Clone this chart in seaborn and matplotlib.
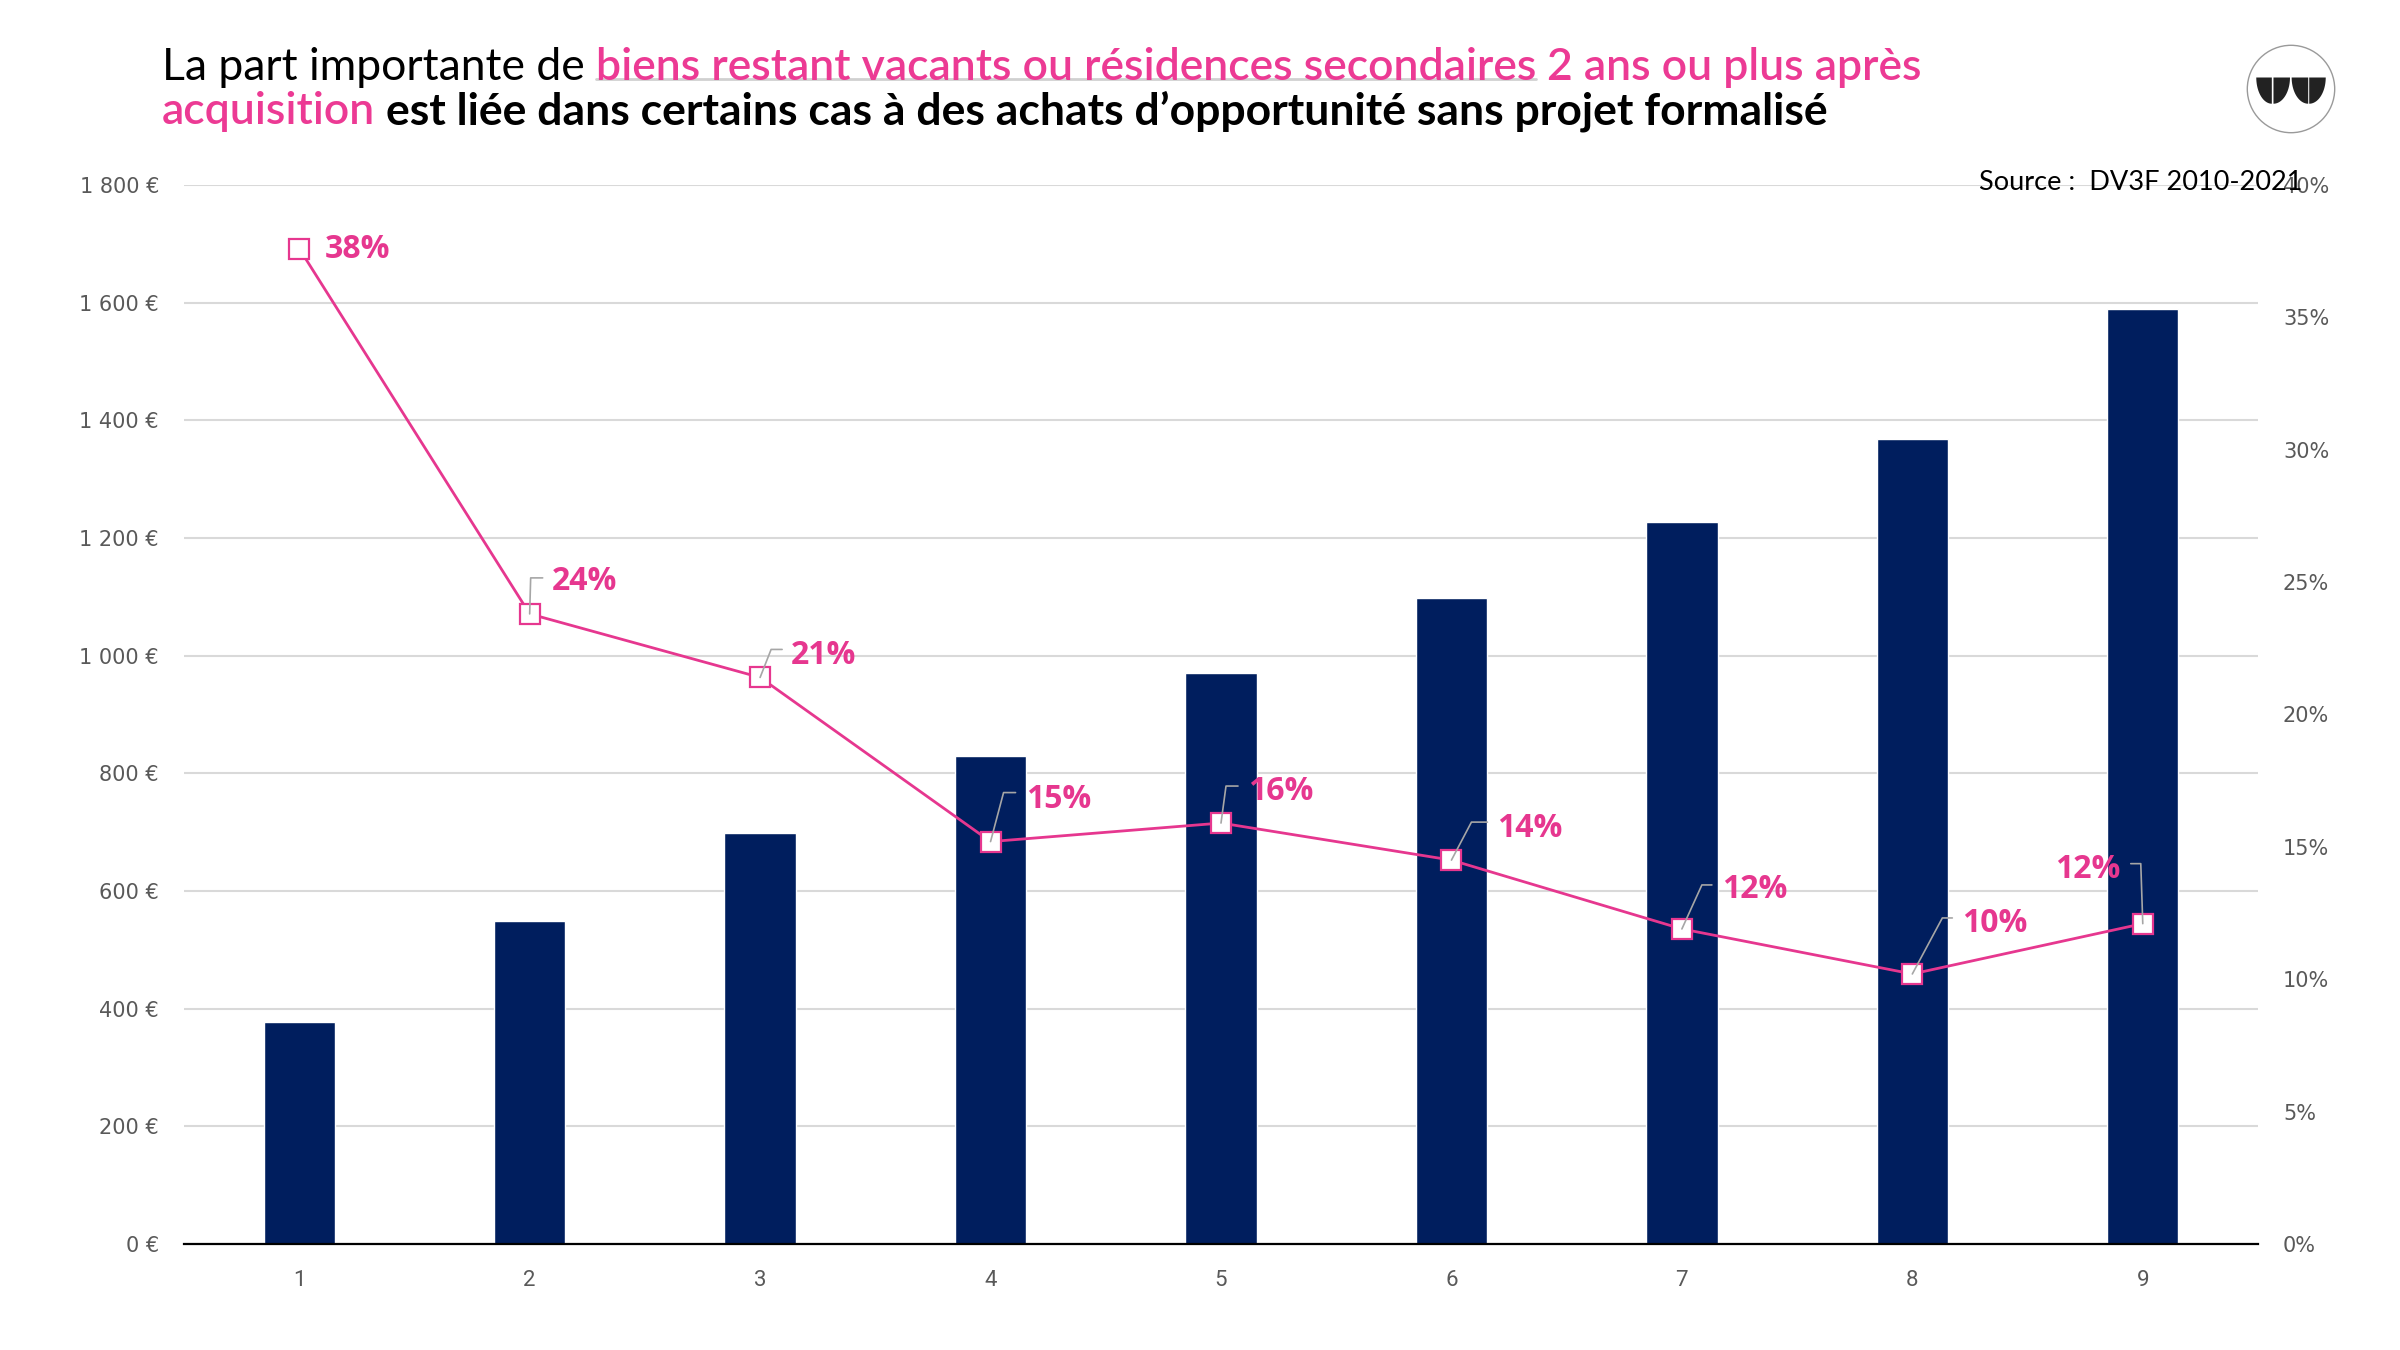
import numpy as np
import pandas as pd
import matplotlib
matplotlib.use("Agg")
import matplotlib.pyplot as plt
import seaborn as sns
from matplotlib.patches import Circle, Polygon
from matplotlib.lines import Line2D

# ==============================
# Données
# ==============================
categories = ["1", "2", "3", "4", "5", "6", "7", "8", "9"]
montants = [378, 549, 698, 830, 970, 1098, 1228, 1368, 1589]
parts = [0.376, 0.238, 0.214, 0.152, 0.159, 0.145, 0.119, 0.102, 0.121]
part_labels = ["38%", "24%", "21%", "15%", "16%", "14%", "12%", "10%", "12%"]

y_ticks_eur = list(range(0, 1801, 200))
y_ticks_pct = [0, 0.05, 0.10, 0.15, 0.20, 0.25, 0.30, 0.35, 0.40]

# décalages (pixels) des étiquettes : coude, fin du trait, texte
label_layout = [
    (None, None, (26, -1), "left"),
    ((1, 36), (13, 36), (22, 32), "left"),
    ((11, 28), (22, 28), (31, 22), "left"),
    ((13, 49), (25, 49), (36, 42), "left"),
    ((5, 37), (17, 37), (27, 32), "left"),
    ((20, 38), (36, 38), (46, 32), "left"),
    ((20, 44), (30, 44), (40, 39), "left"),
    ((30, 56), (40, 56), (50, 50), "left"),
    ((-2, 60), (-12, 60), (-22, 54), "right"),
]

NAVY = "#001E5E"
PINK = "#E6378F"
TITLE_PINK = "#EC3A94"
GREY_TXT = "#595959"

sns.set_style("white")
plt.rcParams["font.family"] = ["DejaVu Sans"]

W, H = 2400, 1350
fig = plt.figure(figsize=(W / 100, H / 100), dpi=100)
fig.patch.set_facecolor("white")

ax = fig.add_axes([184 / W, 1 - 1244 / H, (2258 - 184) / W, (1244 - 185) / H])

df = pd.DataFrame({"tranche": categories, "montant": montants, "part": parts})

# ==============================
# Barres (montants)
# ==============================
sns.barplot(data=df, x="tranche", y="montant", color=NAVY, saturation=1,
            width=0.31, ax=ax)
ax.set_ylim(0, 1800)
ax.set_xlim(-0.5, len(categories) - 0.5)
ax.set_yticks(y_ticks_eur)
ax.set_yticklabels([f"{v:,}".replace(",", " ") + " €" for v in y_ticks_eur],
                   fontsize=15, color=GREY_TXT)
ax.set_xlabel("")
ax.set_ylabel("")
ax.yaxis.grid(True, color="#D9D9D9", lw=1.5)
ax.xaxis.grid(False)
ax.set_axisbelow(True)
for s in ["left", "right", "top"]:
    ax.spines[s].set_visible(False)
ax.spines["bottom"].set_color("black")
ax.spines["bottom"].set_linewidth(1.6)
ax.tick_params(axis="y", length=0, pad=18)
ax.tick_params(axis="x", length=0, pad=19, labelsize=16, labelcolor=GREY_TXT)
for lbl in ax.get_xticklabels():
    lbl.set_fontfamily("Roboto")

# ==============================
# Courbe (parts)
# ==============================
ax2 = ax.twinx()
xs = np.arange(len(categories))
sns.lineplot(x=xs, y=df["part"], ax=ax2, color=PINK, linewidth=2,
             marker="s", markersize=15, markerfacecolor="white",
             markeredgecolor=PINK, markeredgewidth=1.6, zorder=3)
ax2.set_ylim(0, 0.40)
ax2.set_xlim(-0.5, len(categories) - 0.5)
ax2.set_yticks(y_ticks_pct)
ax2.set_yticklabels([f"{round(v * 100)}%" for v in y_ticks_pct],
                    fontsize=15, color=GREY_TXT)
ax2.set_ylabel("")
ax2.grid(False)
for s in ax2.spines.values():
    s.set_visible(False)
ax2.tick_params(axis="y", length=0, pad=18)

for i, (p, lab) in enumerate(zip(parts, part_labels)):
    elbow, end, txt, ha = label_layout[i]
    if elbow is not None:
        ang = np.degrees(np.arctan2(elbow[1], elbow[0]))
        ax2.annotate("", xy=(i, p), xytext=end, textcoords="offset pixels",
                     arrowprops=dict(arrowstyle="-", color="#A6A6A6", lw=1.2,
                                     shrinkA=0, shrinkB=0,
                                     connectionstyle=f"angle,angleA=0,angleB={ang},rad=0"),
                     zorder=5)
    ax2.annotate(lab, xy=(i, p), xytext=txt, textcoords="offset pixels",
                 ha=ha, va="center", color=PINK, fontsize=23,
                 fontweight="bold", family="Open Sans", zorder=6)

# ==============================
# Titre multicolore
# ==============================
renderer = fig.canvas.get_renderer()


def space_width(size, weight):
    a = fig.text(0, 0, "x x", fontsize=size, fontweight=weight, family="Lato")
    b = fig.text(0, 0, "xx", fontsize=size, fontweight=weight, family="Lato")
    w = a.get_window_extent(renderer).width - b.get_window_extent(renderer).width
    a.remove()
    b.remove()
    return w


def write_line(x_px, y_px, pieces, size):
    extents = []
    for k, (txt, color, weight) in enumerate(pieces):
        if k > 0:
            x_px += space_width(size, weight)
        t = fig.text(x_px / W, 1 - y_px / H, txt, color=color, fontsize=size,
                     fontweight=weight, family="Lato", va="baseline", ha="left")
        w = t.get_window_extent(renderer).width
        extents.append((x_px, x_px + w))
        x_px += w
    return extents


TITLE_SIZE = 32
line1 = write_line(162, 80, [
    ("La part importante de", "black", "normal"),
    ("biens restant vacants ou résidences secondaires", TITLE_PINK, "semibold"),
    ("2 ans ou plus après", TITLE_PINK, "semibold"),
], TITLE_SIZE)
write_line(162, 124, [
    ("acquisition", TITLE_PINK, "semibold"),
    ("est liée dans certains cas à des achats d’opportunité sans projet formalisé",
     "black", "bold"),
], TITLE_SIZE)

x0, x1 = line1[1]
fig.add_artist(Line2D([x0 / W, x1 / W], [1 - 79 / H, 1 - 79 / H],
                      color="#D0D0D0", lw=2, zorder=1))

fig.text(1979 / W, 1 - 182 / H, "Source :  DV3F 2010-2021", fontsize=19.5,
         family="Lato", color="black", va="center", ha="left")

# ==============================
# Logo
# ==============================
lax = fig.add_axes([(2291 - 46) / W, 1 - (89 + 46) / H, 92 / W, 92 / H])
lax.set_xlim(-1, 1)
lax.set_ylim(-1, 1)
lax.set_aspect("equal")
lax.axis("off")
lax.add_patch(Circle((0, 0), 0.95, facecolor="white", edgecolor="#9A9A9A", lw=1))
top, bottom = 0.25, -0.32
t = np.linspace(0, np.pi / 2, 30)
for x_a, x_b, left in [(-0.755, -0.417, True), (-0.381, -0.022, False),
                       (0.014, 0.374, True), (0.396, 0.755, False)]:
    w = x_b - x_a
    h = top - bottom
    if left:
        pts = [(x_b - w * np.cos(tt), top - h * np.sin(tt)) for tt in t] + [(x_b, top)]
    else:
        pts = [(x_a + w * np.cos(tt), top - h * np.sin(tt)) for tt in t] + [(x_a, top)]
    lax.add_patch(Polygon(pts, closed=True, facecolor="#222222", edgecolor="none"))

fig.savefig("out.png", dpi=100, facecolor="white")
